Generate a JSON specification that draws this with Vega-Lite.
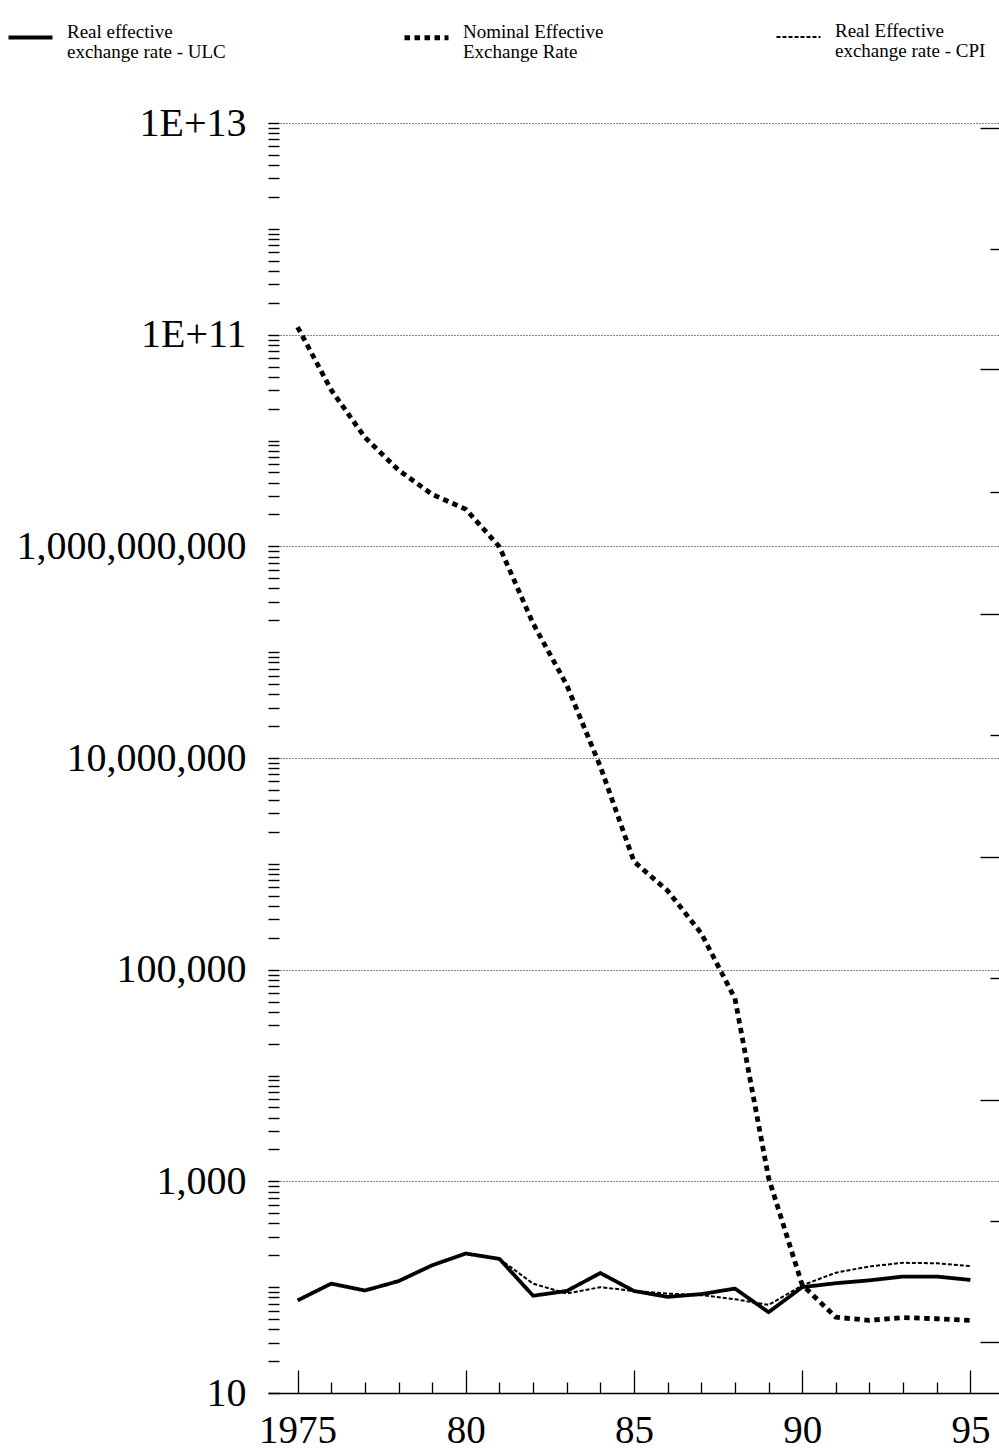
{
  "$schema": "https://vega.github.io/schema/vega-lite/v6.json",
  "width": 731,
  "height": 1270,
  "autosize": "none",
  "padding": {"left": 268, "top": 123, "right": 0, "bottom": 59},
  "background": "white",
  "config": {
    "view": {"stroke": null},
    "font": "Liberation Serif",
    "style": {"guide-label": {"lineHeight": 20}},
    "axis": {"labelFont": "Liberation Serif", "labelColor": "black", "tickColor": "black"},
    "legend": {"labelFont": "Liberation Serif", "labelColor": "black"}
  },
  "data": {
    "values": [
      {"year": 1975, "series": "ULC", "value": 75},
      {"year": 1976, "series": "ULC", "value": 108},
      {"year": 1977, "series": "ULC", "value": 93},
      {"year": 1978, "series": "ULC", "value": 114},
      {"year": 1979, "series": "ULC", "value": 161},
      {"year": 1980, "series": "ULC", "value": 208},
      {"year": 1981, "series": "ULC", "value": 185},
      {"year": 1982, "series": "ULC", "value": 83},
      {"year": 1983, "series": "ULC", "value": 92},
      {"year": 1984, "series": "ULC", "value": 136},
      {"year": 1985, "series": "ULC", "value": 92},
      {"year": 1986, "series": "ULC", "value": 81},
      {"year": 1987, "series": "ULC", "value": 86},
      {"year": 1988, "series": "ULC", "value": 97},
      {"year": 1989, "series": "ULC", "value": 58},
      {"year": 1990, "series": "ULC", "value": 100},
      {"year": 1991, "series": "ULC", "value": 109},
      {"year": 1992, "series": "ULC", "value": 116},
      {"year": 1993, "series": "ULC", "value": 126},
      {"year": 1994, "series": "ULC", "value": 126},
      {"year": 1995, "series": "ULC", "value": 117},
      {"year": 1975, "series": "NEER", "value": 118000000000},
      {"year": 1976, "series": "NEER", "value": 30000000000},
      {"year": 1977, "series": "NEER", "value": 10700000000},
      {"year": 1978, "series": "NEER", "value": 5250000000},
      {"year": 1979, "series": "NEER", "value": 3100000000},
      {"year": 1980, "series": "NEER", "value": 2240000000},
      {"year": 1981, "series": "NEER", "value": 990000000},
      {"year": 1982, "series": "NEER", "value": 187000000},
      {"year": 1983, "series": "NEER", "value": 49000000},
      {"year": 1984, "series": "NEER", "value": 8300000},
      {"year": 1985, "series": "NEER", "value": 1050000},
      {"year": 1986, "series": "NEER", "value": 556000},
      {"year": 1987, "series": "NEER", "value": 220000},
      {"year": 1988, "series": "NEER", "value": 53500},
      {"year": 1989, "series": "NEER", "value": 1080},
      {"year": 1990, "series": "NEER", "value": 105},
      {"year": 1991, "series": "NEER", "value": 52},
      {"year": 1992, "series": "NEER", "value": 48.6},
      {"year": 1993, "series": "NEER", "value": 51.6},
      {"year": 1994, "series": "NEER", "value": 50.3},
      {"year": 1995, "series": "NEER", "value": 48.6},
      {"year": 1981, "series": "CPI", "value": 185},
      {"year": 1982, "series": "CPI", "value": 108},
      {"year": 1983, "series": "CPI", "value": 87},
      {"year": 1984, "series": "CPI", "value": 100},
      {"year": 1985, "series": "CPI", "value": 92},
      {"year": 1986, "series": "CPI", "value": 87},
      {"year": 1987, "series": "CPI", "value": 84},
      {"year": 1988, "series": "CPI", "value": 77},
      {"year": 1989, "series": "CPI", "value": 68},
      {"year": 1990, "series": "CPI", "value": 104},
      {"year": 1991, "series": "CPI", "value": 137},
      {"year": 1992, "series": "CPI", "value": 157},
      {"year": 1993, "series": "CPI", "value": 170},
      {"year": 1994, "series": "CPI", "value": 168},
      {"year": 1995, "series": "CPI", "value": 158}
    ]
  },
  "encoding": {
    "x": {
      "field": "year",
      "type": "quantitative",
      "scale": {"domain": [1974.12, 1995.85], "nice": false, "zero": false},
      "axis": {
        "title": null,
        "values": [1975, 1976, 1977, 1978, 1979, 1980, 1981, 1982, 1983, 1984, 1985, 1986, 1987, 1988, 1989, 1990, 1991, 1992, 1993, 1994, 1995],
        "labelExpr": "datum.value == 1975 ? '1975' : (datum.value % 5 == 0 ? substring(toString(datum.value), 2) : '')",
        "labelFontSize": 39,
        "labelPadding": 41,
        "labelFlush": false,
        "labelOverlap": false,
        "labelBaseline": "top",
        "grid": false,
        "domain": true,
        "domainColor": "black",
        "domainWidth": 1.5,
        "tickSize": -23,
        "tickWidth": 1.3,
        "tickDash": {"condition": {"test": "datum.value % 5 == 0", "value": [30, 2]}, "value": [11, 40]}
      }
    },
    "strokeDash": {
      "field": "series",
      "type": "nominal",
      "scale": {"domain": ["ULC", "NEER", "CPI"], "range": [[1, 0], [5.5, 4.5], [4, 2]]},
      "legend": {
        "orient": "none",
        "legendX": -262,
        "legendY": -110,
        "direction": "horizontal",
        "columns": 3,
        "columnPadding": 168,
        "padding": 0,
        "title": null,
        "symbolType": "stroke",
        "symbolSize": 1936,
        "symbolStrokeColor": "black",
        "labelOffset": 12,
        "labelFontSize": 19,
        "labelLimit": 400,
        "labelBaseline": "alphabetic",
        "labelExpr": "datum.value == 'ULC' ? ['Real effective', 'exchange rate - ULC'] : (datum.value == 'NEER' ? ['Nominal Effective', 'Exchange Rate'] : ['Real Effective', 'exchange rate - CPI'])"
      }
    },
    "strokeWidth": {
      "field": "series",
      "type": "nominal",
      "scale": {"type": "ordinal", "domain": ["ULC", "NEER", "CPI"], "range": [3.8, 4.8, 2]}
    }
  },
  "layer": [
    {
      "transform": [{"filter": "datum.series != 'CPI'"}],
      "mark": {"type": "line", "color": "black", "strokeCap": "butt", "strokeJoin": "round"},
      "encoding": {
        "y": {
          "field": "value",
          "type": "quantitative",
          "scale": {"type": "log", "domain": [10, 10000000000000], "nice": false},
          "axis": {
            "title": null,
            "orient": "left",
            "domain": false,
            "values": [1e1, 2e1, 3e1, 4e1, 5e1, 6e1, 7e1, 8e1, 9e1,
                       1e2, 2e2, 3e2, 4e2, 5e2, 6e2, 7e2, 8e2, 9e2,
                       1e3, 2e3, 3e3, 4e3, 5e3, 6e3, 7e3, 8e3, 9e3,
                       1e4, 2e4, 3e4, 4e4, 5e4, 6e4, 7e4, 8e4, 9e4,
                       1e5, 2e5, 3e5, 4e5, 5e5, 6e5, 7e5, 8e5, 9e5,
                       1e6, 2e6, 3e6, 4e6, 5e6, 6e6, 7e6, 8e6, 9e6,
                       1e7, 2e7, 3e7, 4e7, 5e7, 6e7, 7e7, 8e7, 9e7,
                       1e8, 2e8, 3e8, 4e8, 5e8, 6e8, 7e8, 8e8, 9e8,
                       1e9, 2e9, 3e9, 4e9, 5e9, 6e9, 7e9, 8e9, 9e9,
                       1e10, 2e10, 3e10, 4e10, 5e10, 6e10, 7e10, 8e10, 9e10,
                       1e11, 2e11, 3e11, 4e11, 5e11, 6e11, 7e11, 8e11, 9e11,
                       1e12, 2e12, 3e12, 4e12, 5e12, 6e12, 7e12, 8e12, 9e12,
                       1e13],
            "labelExpr": "datum.value == 10 ? '10' : datum.value == 1e3 ? '1,000' : datum.value == 1e5 ? '100,000' : datum.value == 1e7 ? '10,000,000' : datum.value == 1e9 ? '1,000,000,000' : datum.value == 1e11 ? '1E+11' : datum.value == 1e13 ? '1E+13' : ''",
            "labelFontSize": 40,
            "labelPadding": 33,
            "labelLimit": 400,
            "labelBaseline": "middle",
            "labelFlush": false,
            "labelOverlap": false,
            "tickSize": -11,
            "tickWidth": 1.4,
            "grid": true,
            "gridColor": "#111111",
            "gridWidth": 1,
            "gridDash": [1, 2],
            "gridOpacity": {"condition": {"test": "indexof([1e3, 1e5, 1e7, 1e9, 1e11, 1e13], datum.value) >= 0", "value": 1}, "value": 0}
          }
        }
      }
    },
    {
      "transform": [{"filter": "datum.series == 'CPI'"}],
      "mark": {"type": "line", "color": "black", "strokeCap": "butt", "strokeJoin": "round"},
      "encoding": {
        "y": {
          "field": "value",
          "type": "quantitative",
          "scale": {"type": "log", "domain": [10, 10000000000000], "nice": false},
          "axis": {
            "title": null,
            "orient": "right",
            "domain": false,
            "labels": false,
            "grid": false,
            "values": [9.04e12, 6.5e11, 4.71e10, 3.24e9, 2.31e8, 1.64e7, 1.17e6, 8.34e4, 5.93e3, 423, 30.1],
            "tickSize": -19,
            "tickWidth": 1.4,
            "tickDash": {"condition": {"test": "indexof([6.5e11, 3.24e9, 1.64e7, 8.34e4, 423], datum.value) >= 0", "value": [9, 30]}, "value": [19, 2]}
          }
        }
      }
    }
  ],
  "resolve": {"axis": {"y": "independent"}}
}
